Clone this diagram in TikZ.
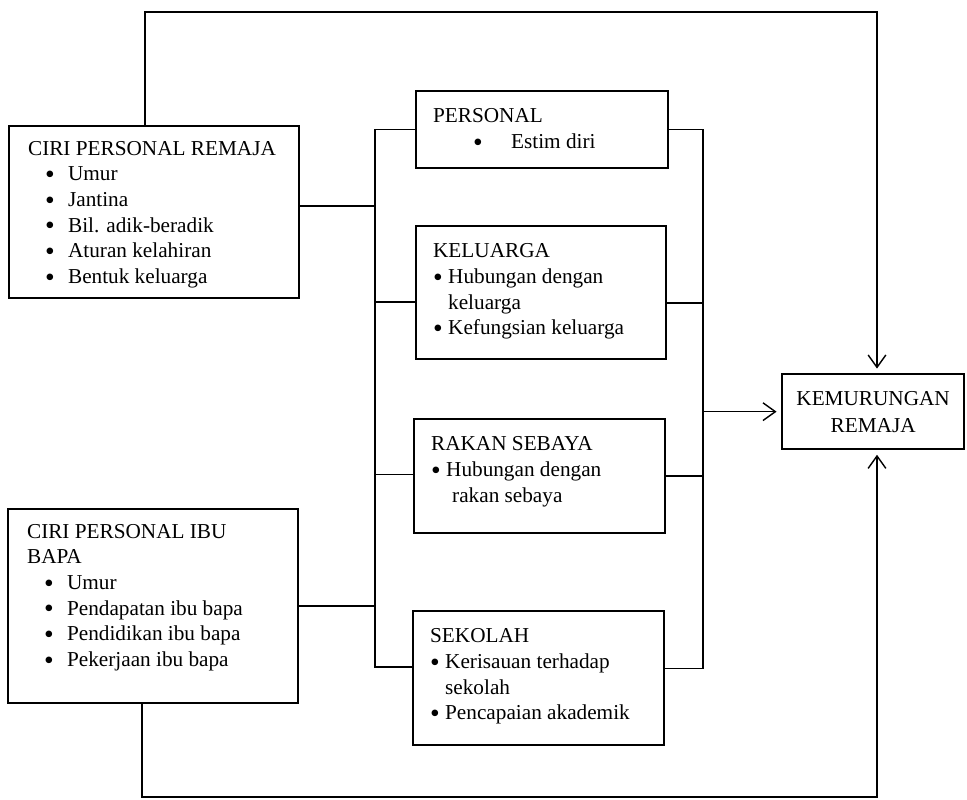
\documentclass[tikz,border=0pt]{standalone}
\usepackage{fontspec}
\setmainfont{Liberation Serif}
\usetikzlibrary{arrows.meta, positioning}
\newcommand{\bul}[3]{\hspace*{#1}\makebox[#2][l]{\raisebox{-1.4pt}{\scalebox{1.3}{\textbullet}}}#3}
\newcommand{\boxbody}[3]{\parbox[t][#2][t]{#1}{#3}}
\tikzset{
    factor/.style={draw=black, line width=1.3pt, anchor=north west, inner xsep=9.6pt, inner ysep=10pt, font=\fontsize{12}{14.5}\selectfont},
    profile/.style={factor, inner xsep=10.7pt, inner ysep=8.5pt},
    outcome/.style={draw=black, line width=1.3pt, anchor=north west, align=center, minimum width=102.8pt, minimum height=42.4pt, inner sep=0pt, font=\fontsize{12}{15.3}\selectfont},
    link/.style={line width=0.8pt},
    arrow/.style={link, -{Straight Barb[length=7pt,width=10pt]}, shorten >=2.5pt}
}
\begin{document}
\begin{tikzpicture}[x=0.565pt, y=-0.565pt]
    \useasboundingbox (0,0) rectangle (967,800);
    % background factors
    \node[profile] (remaja) at (8,125) {\boxbody{142.5pt}{80.2pt}{CIRI PERSONAL REMAJA\\
        \bul{9.6pt}{13pt}{Umur}\\
        \bul{9.6pt}{13pt}{Jantina}\\
        \bul{9.6pt}{13pt}{Bil. adik-beradik}\\
        \bul{9.6pt}{13pt}{Aturan kelahiran}\\
        \bul{9.6pt}{13pt}{Bentuk keluarga}}};
    \node[profile] (ibubapa) at (7,508) {\boxbody{142.5pt}{92.6pt}{CIRI PERSONAL IBU\\BAPA\\
        \bul{9.6pt}{13pt}{Umur}\\
        \bul{9.6pt}{13pt}{Pendapatan ibu bapa}\\
        \bul{9.6pt}{13pt}{Pendidikan ibu bapa}\\
        \bul{9.6pt}{13pt}{Pekerjaan ibu bapa}}};

    % mediating factors
    \node[factor] (personal) at (415,90) {\boxbody{123.2pt}{23.5pt}{PERSONAL\\
        \bul{22.6pt}{21.5pt}{Estim diri}}};
    \node[factor] (keluarga) at (415,225) {\boxbody{122.1pt}{55.1pt}{KELUARGA\\
        \bul{0pt}{8.5pt}{Hubungan dengan}\\
        \hspace*{8.5pt}keluarga\\
        \bul{0pt}{8.5pt}{Kefungsian keluarga}}};
    \node[factor] (rakan) at (413,418) {\boxbody{122.6pt}{44.4pt}{RAKAN SEBAYA\\
        \bul{0pt}{8.5pt}{Hubungan dengan}\\
        \hspace*{11.9pt}rakan sebaya}};
    \node[factor] (sekolah) at (412,610) {\boxbody{122.6pt}{55.7pt}{SEKOLAH\\
        \bul{0pt}{8.5pt}{Kerisauan terhadap}\\
        \hspace*{8.5pt}sekolah\\
        \bul{0pt}{8.5pt}{Pencapaian akademik}}};

    % outcome
    \node[outcome] (kemurungan) at (781,373) {KEMURUNGAN\\REMAJA};

    \coordinate (lbus) at (375,0);
    \coordinate (rbus) at (703,0);
    \coordinate (topL) at (145,12);
    \coordinate (topR) at (877,12);
    \coordinate (botL) at (142,797);
    \coordinate (botR) at (877,797);

    % left bus
    \draw[link] ([yshift=3.4pt]remaja.east) -- ([yshift=3.4pt]remaja.east -| lbus);
    \draw[link] (ibubapa.east) -- (ibubapa.east -| lbus);
    \draw[link] (personal.west) -| ([yshift=6.2pt]sekolah.west -| lbus) -- ([yshift=6.2pt]sekolah.west);
    \draw[link] ([yshift=-5.4pt]keluarga.west) -- ([yshift=-5.4pt]keluarga.west -| lbus);
    \draw[link] ([yshift=1pt]rakan.west) -- ([yshift=1pt]rakan.west -| lbus);

    % right bus
    \draw[link] (personal.east) -| ([yshift=5.6pt]sekolah.east -| rbus) -- ([yshift=5.6pt]sekolah.east);
    \draw[link] ([yshift=-5.9pt]keluarga.east) -- ([yshift=-5.9pt]keluarga.east -| rbus);
    \draw[link] (rakan.east) -- (rakan.east -| rbus);
    \draw[arrow] (rbus |- kemurungan.west) -- (kemurungan.west);

    % direct paths
    \draw[arrow] (remaja.north -| topL) -- (topL) -- (topR) -- (topR |- kemurungan.north);
    \draw[arrow] (ibubapa.south -| botL) -- (botL) -- (botR) -- (botR |- kemurungan.south);
\end{tikzpicture}
\end{document}
